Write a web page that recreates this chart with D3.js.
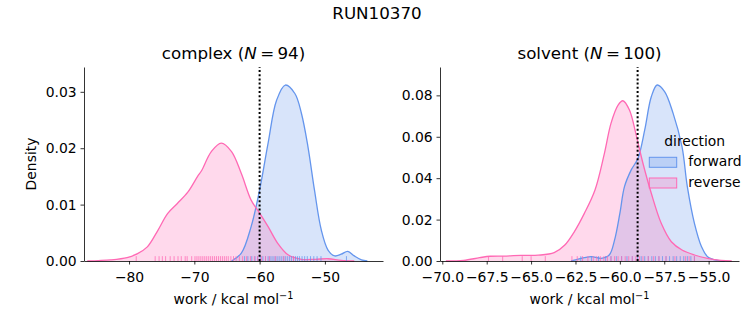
<!DOCTYPE html>
<html>
<head>
<meta charset="utf-8">
<script src="https://cdn.jsdelivr.net/npm/d3@7"></script>
<style>
  body { margin: 0; background: #fff; }
  svg text { font-family: "DejaVu Sans", sans-serif; fill: #000; }
</style>
</head>
<body>
<div id="chart"></div>
<script>
// KDE curves of the work distributions (work in kcal/mol, density)
const complexForwardWork = [-64.3, -62.8, -61.3, -60.0, -58.7, -57.4, -56.06, -54.6, -53.6, -52.6, -51.6, -50.55, -49.5, -48.5, -47.5, -46.5, -45.5, -44.4, -43.5];
const complexForwardDensity = [0, 0.0014, 0.0061, 0.0126, 0.0209, 0.0285, 0.0312, 0.0297, 0.0262, 0.0203, 0.0126, 0.0055, 0.0019, 0.0009, 0.0012, 0.0017, 0.0009, 0.0002, 0];

const complexReverseWork = [-86.4, -82.8, -80.3, -78.7, -77.2, -75.6, -74.1, -72.6, -71.0, -69.5, -68.9, -67.4, -65.87, -64.3, -62.8, -61.3, -60.0, -58.7, -57.2, -55.65, -53.6, -51.5, -49.5, -47.5, -45.5];
const complexReverseDensity = [0, 0.0002, 0.0006, 0.0013, 0.0025, 0.0054, 0.0084, 0.0102, 0.0122, 0.0150, 0.0160, 0.0194, 0.0209, 0.0194, 0.0155, 0.0108, 0.0085, 0.0061, 0.0031, 0.0011, 0.0003, 0.0003, 0.0004, 0.0001, 0];

const solventForwardWork = [-62.75, -62.0, -61.6, -61.06, -60.6, -60.3, -60.0, -59.74, -59.36, -58.98, -58.6, -58.23, -57.9, -57.48, -57.0, -56.5, -56.2, -55.8, -55.4, -55.06, -54.5, -54.1];
const solventForwardDensity = [0, 0.0016, 0.0021, 0.0013, 0.0029, 0.0101, 0.023, 0.0359, 0.044, 0.0496, 0.0633, 0.0793, 0.085, 0.0818, 0.0713, 0.0552, 0.0359, 0.0182, 0.0069, 0.0021, 0.0003, 0];

const solventReverseWork = [-69.8, -68.8, -67.9, -67.3, -66.4, -65.57, -64.6, -63.7, -63.1, -62.56, -62.0, -61.4, -60.87, -60.5, -60.1, -59.83, -59.46, -59.08, -58.7, -58.23, -57.67, -57.1, -56.5, -55.8, -55.06, -54.3, -53.7];
const solventReverseDensity = [0, 0.0003, 0.0016, 0.0023, 0.0024, 0.0027, 0.0028, 0.004, 0.0077, 0.0142, 0.023, 0.0343, 0.052, 0.0665, 0.0753, 0.0774, 0.0729, 0.0608, 0.0472, 0.0327, 0.0182, 0.0093, 0.0053, 0.0029, 0.0013, 0.0003, 0];

// individual work values (rug)
const complexForwardRug = [-62.3, -61.8, -61.2, -60.7, -60.3, -59.9, -59.5, -59.1, -58.7, -58.4, -58.1, -57.8, -57.5, -57.2, -56.9, -56.6, -56.3, -56.0, -55.7, -55.4, -55.1, -54.8, -54.5, -54.2, -53.9, -53.5, -53.1, -52.7, -52.2, -51.7, -51.2, -50.6, -46.7];
const complexReverseRug = [-78.9, -76.0, -75.4, -74.9, -74.4, -73.7, -73.1, -72.5, -72.0, -71.4, -71.1, -70.4, -69.9, -69.6, -69.3, -69.0, -68.7, -68.4, -68.1, -67.8, -67.5, -67.2, -66.9, -66.6, -66.3, -66.0, -65.7, -65.4, -65.1, -64.8, -64.4, -64.0, -63.6, -63.1, -62.6, -62.0, -61.4, -60.8, -60.3, -59.7, -59.1, -58.5, -57.6, -56.3, -54.8];
const solventForwardRug = [-62.2, -61.6, -61.2, -60.8, -60.5, -60.2, -59.9, -59.6, -59.3, -59.0, -58.8, -58.6, -58.4, -58.2, -58.0, -57.8, -57.6, -57.4, -57.2, -57.0, -56.8, -56.6, -56.4, -56.2, -56.0, -55.8];
const solventReverseRug = [-67.4, -66.6, -65.5, -65.0, -64.2, -62.7, -62.4, -62.1, -61.8, -61.5, -61.3, -61.1, -60.9, -60.7, -60.5, -60.3, -60.1, -59.9, -59.7, -59.5, -59.3, -59.1, -58.9, -58.7, -58.4, -58.1, -57.8, -57.4, -56.9, -56.3, -56.1, -55.8];

// reference work (dotted line)
const complexRefWork = -60.0;
const solventRefWork = -59.0;

const complexXTicks = [-80, -70, -60, -50];
const complexYTicks = [0, 0.01, 0.02, 0.03];
const solventXTicks = [-70, -67.5, -65, -62.5, -60, -57.5, -55];
const solventYTicks = [0, 0.02, 0.04, 0.06, 0.08];

const directions = ["forward", "reverse"];
const colors = { forward: "#6495ED", reverse: "#FF69B4" };

const W = 753, H = 325;
const svg = d3.select("#chart").append("svg")
    .attr("width", W)
    .attr("height", H);

const FS = 13.9, TFS = 16.7;

svg.append("text")
    .attr("x", 377)
    .attr("y", 19)
    .attr("text-anchor", "middle")
    .style("font-size", TFS + "px")
    .text("RUN10370");

function drawPanel(opts) {
    const { left, right, top, bottom } = opts.box;
    const x = d3.scaleLinear().domain(opts.xDomain).range([left, right]);
    const y = d3.scaleLinear().domain(opts.yDomain).range([bottom, top]);
    const g = svg.append("g");

    const curve = d3.curveCatmullRom.alpha(0.5);
    const area = d3.area()
        .x(d => x(d[0]))
        .y0(y(0))
        .y1(d => y(d[1]))
        .curve(curve);
    const line = d3.line()
        .x(d => x(d[0]))
        .y(d => y(d[1]))
        .curve(curve);

    // fills first, outlines on top
    opts.series.forEach(s => {
        const pts = d3.zip(s.work, s.density);
        g.append("path")
            .datum(pts)
            .attr("d", area)
            .attr("fill", colors[s.dir])
            .attr("fill-opacity", 0.25);
    });
    opts.series.forEach(s => {
        const pts = d3.zip(s.work, s.density);
        g.append("path")
            .datum(pts)
            .attr("d", line)
            .attr("fill", "none")
            .attr("stroke", colors[s.dir])
            .attr("stroke-width", 1.3);
    });

    // rug
    const rugH = (bottom - top) * 0.025;
    opts.series.forEach(s => {
        g.selectAll(null)
            .data(s.rug)
            .enter()
            .append("line")
            .attr("x1", d => x(d))
            .attr("x2", d => x(d))
            .attr("y1", y(0))
            .attr("y2", y(0) - rugH)
            .attr("stroke", colors[s.dir])
            .attr("stroke-opacity", 0.75)
            .attr("stroke-width", 1);
    });

    // dotted reference line
    g.append("line")
        .attr("x1", x(opts.ref))
        .attr("x2", x(opts.ref))
        .attr("y1", bottom)
        .attr("y2", top)
        .attr("stroke", "#000")
        .attr("stroke-width", 2)
        .attr("stroke-dasharray", "2,2.2");

    // axes
    const xAxis = g.append("g")
        .attr("transform", `translate(0,${bottom})`)
        .call(d3.axisBottom(x).tickValues(opts.xTicks).tickFormat(d3.format(opts.xFmt))
            .tickSize(3.5).tickSizeOuter(0).tickPadding(7.3));
    const yAxis = g.append("g")
        .attr("transform", `translate(${left},0)`)
        .call(d3.axisLeft(y).tickValues(opts.yTicks).tickFormat(d3.format(".2f"))
            .tickSize(3.5).tickSizeOuter(0).tickPadding(3.8));
    [xAxis, yAxis].forEach(a => {
        a.attr("font-family", null).attr("font-size", null);
        a.selectAll("text").style("font-size", FS + "px");
        a.selectAll("path, line").attr("stroke", "#000").attr("stroke-width", 0.8);
    });

    // title with italic N
    const t = g.append("text")
        .attr("x", (left + right) / 2)
        .attr("y", top - 8.3)
        .attr("text-anchor", "middle")
        .style("font-size", TFS + "px");
    t.append("tspan").text(opts.name + " (");
    t.append("tspan").style("font-style", "italic").text("N");
    t.append("tspan").text("\u2009=\u2009" + opts.n + ")");

    // x label
    const xl = g.append("text")
        .attr("x", (left + right) / 2)
        .attr("y", 304)
        .attr("text-anchor", "middle")
        .style("font-size", FS + "px");
    xl.append("tspan").text("work / kcal mol");
    xl.append("tspan").attr("dy", -5.5).style("font-size", "9.7px").text("\u22121");

    if (opts.yLabel) {
        g.append("text")
            .attr("transform", `translate(36,${(top + bottom) / 2}) rotate(-90)`)
            .attr("text-anchor", "middle")
            .style("font-size", FS + "px")
            .text(opts.yLabel);
    }
}

drawPanel({
    box: { left: 84, right: 383, top: 67, bottom: 261 },
    xDomain: [-86.9, -41.1],
    yDomain: [0, 0.0344],
    xTicks: complexXTicks, yTicks: complexYTicks, xFmt: "d",
    name: "complex", n: 94, ref: complexRefWork, yLabel: "Density",
    series: [
        { dir: "forward", work: complexForwardWork, density: complexForwardDensity, rug: complexForwardRug },
        { dir: "reverse", work: complexReverseWork, density: complexReverseDensity, rug: complexReverseRug }
    ]
});

drawPanel({
    box: { left: 440, right: 739, top: 67, bottom: 261 },
    xDomain: [-70.13, -53.29],
    yDomain: [0, 0.0937],
    xTicks: solventXTicks, yTicks: solventYTicks, xFmt: ".1f",
    name: "solvent", n: 100, ref: solventRefWork,
    series: [
        { dir: "forward", work: solventForwardWork, density: solventForwardDensity, rug: solventForwardRug },
        { dir: "reverse", work: solventReverseWork, density: solventReverseDensity, rug: solventReverseRug }
    ]
});

// legend (no frame)
const legend = svg.append("g");
legend.append("text")
    .attr("x", 694.7)
    .attr("y", 146)
    .attr("text-anchor", "middle")
    .style("font-size", FS + "px")
    .text("direction");
directions.forEach((dir, i) => {
    const yy = 157.3 + i * 20.7;
    legend.append("rect")
        .attr("x", 649.3).attr("y", yy)
        .attr("width", 27.4).attr("height", 10)
        .attr("fill", colors[dir]).attr("fill-opacity", 0.25)
        .attr("stroke", colors[dir]).attr("stroke-width", 1);
    legend.append("text")
        .attr("x", 688.3)
        .attr("y", yy + 9)
        .style("font-size", FS + "px")
        .text(dir);
});
</script>
</body>
</html>
